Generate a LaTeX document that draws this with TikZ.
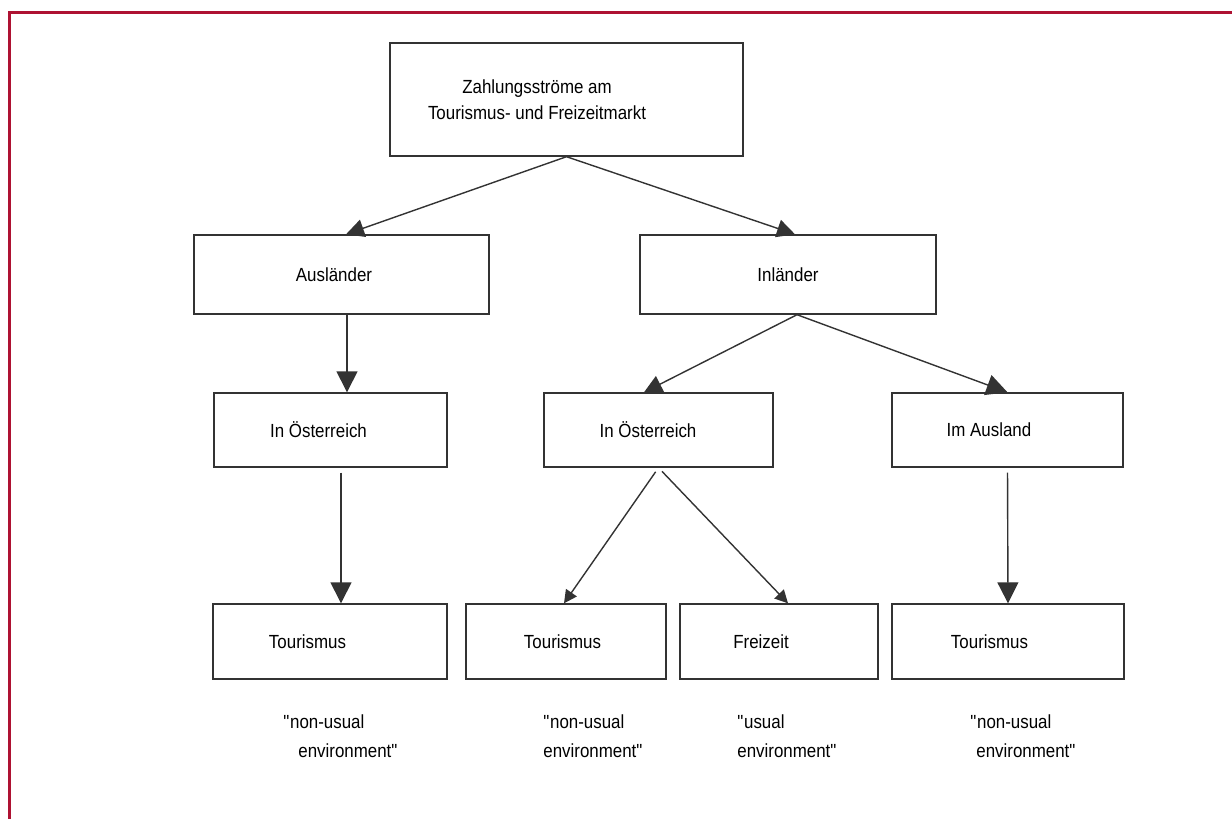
\documentclass[tikz,border=0pt]{standalone}
\usepackage{fontspec}
\setmainfont{Liberation Sans}[FakeStretch=0.89]
\usepackage{tikz}
\usetikzlibrary{arrows.meta}
\definecolor{framered}{RGB}{174,18,50}
\definecolor{linegray}{RGB}{51,51,51}
\newcommand{\dq}{\textquotedbl}

\begin{document}
\begin{tikzpicture}[x=0.5pt,y=-0.5pt,font=\fontsize{9.5}{13}\selectfont,
  box/.style={draw=linegray,line width=0.7pt,rectangle,inner sep=0pt},
  note/.style={anchor=north west,inner sep=0pt,align=left,font=\fontsize{9.5}{14.5}\selectfont},
  link/.style={draw=linegray,line width=0.7pt},
  bighead/.style={link,-{Triangle[length=10.5pt,width=10.5pt]}},
  midhead/.style={link,-{Triangle[length=9pt,width=9pt]}},
  smallhead/.style={link,-{Triangle[length=6.5pt,width=6.5pt]}}]
\useasboundingbox (0,0) rectangle (1232,819);
\draw [framered,line width=1.5pt] (9,819) -- (9,12.5) -- (1232,12.5);
\node [box,minimum width=176.5pt,minimum height=56.5pt,
  label={[align=center,xshift=-14.75pt]center:Zahlungsströme am\\Tourismus- und Freizeitmarkt}] (top) at (566.5,99.5) {};
\node [box,minimum width=147.5pt,minimum height=39.5pt,label={[xshift=-3.75pt]center:Ausländer}] (aus) at (341.5,274.5) {};
\node [box,minimum width=148pt,minimum height=39.5pt,label={center:Inländer}] (inl) at (788,274.5) {};
\node [box,minimum width=116.5pt,minimum height=37pt,label={[xshift=-6pt]center:In Österreich}] (oeA) at (330.5,430) {};
\node [box,minimum width=114.5pt,minimum height=37pt,label={[xshift=-5.25pt]center:In Österreich}] (oeB) at (658.5,430) {};
\node [box,minimum width=115.5pt,minimum height=37pt,label={[xshift=-9.25pt]center:Im Ausland}] (ausl) at (1007.5,430) {};
\node [box,minimum width=117pt,minimum height=37.5pt,label={[xshift=-11.25pt]center:Tourismus}] (tourA) at (330,641.5) {};
\node [box,minimum width=100pt,minimum height=37.5pt,label={[xshift=-1.75pt]center:Tourismus}] (tourB) at (566,641.5) {};
\node [box,minimum width=99pt,minimum height=37.5pt,label={[xshift=-9pt]center:Freizeit}] (frei) at (779,641.5) {};
\node [box,minimum width=116pt,minimum height=37.5pt,label={[xshift=-9.25pt]center:Tourismus}] (tourC) at (1008,641.5) {};
\node [note] (noteA) at (283,714) {\dq non-usual\\\hspace*{7.5pt}environment\dq};
\node [note] (noteB) at (543,714) {\dq non-usual\\environment\dq};
\node [note] (noteC) at (737,714) {\dq usual\\environment\dq};
\node [note] (noteD) at (970,714) {\dq non-usual\\\hspace*{3pt}environment\dq};
\draw [midhead] (top.south) -- ([xshift=2.25pt]aus.north);
\draw [midhead] (top.south) -- ([xshift=3.5pt]inl.north);
\draw [bighead] ([xshift=2.75pt]aus.south) -- ([xshift=8.25pt]oeA.north);
\draw [midhead] ([xshift=4.5pt]inl.south) -- ([xshift=-7.25pt]oeB.north);
\draw [bighead] ([xshift=4.5pt]inl.south) -- (ausl.north);
\draw [bighead,shorten <=2.5pt] ([xshift=5.25pt]oeA.south) -- ([xshift=5.5pt]tourA.north);
\draw [smallhead,shorten <=2.5pt] (oeB.south) -- ([xshift=-1pt]tourB.north);
\draw [smallhead,shorten <=2.5pt] (oeB.south) -- ([xshift=4.5pt]frei.north);
\draw [bighead,shorten <=2.5pt] (ausl.south) -- (tourC.north);
\end{tikzpicture}
\end{document}
